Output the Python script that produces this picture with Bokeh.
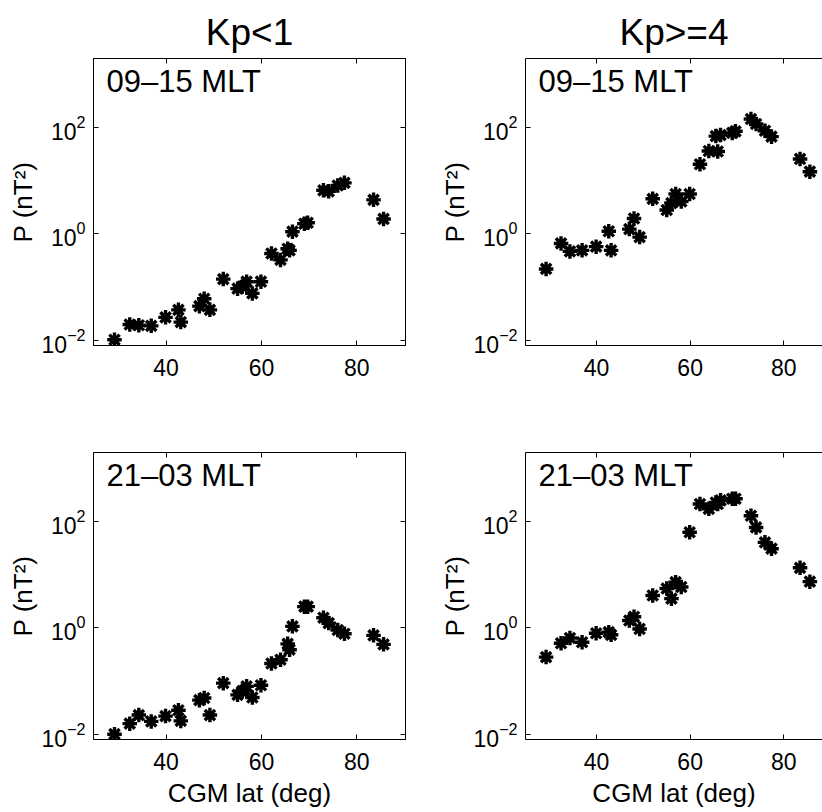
from bokeh.plotting import figure
from bokeh.models import Range1d, FixedTicker, LinearAxis, LogAxis, Label
from bokeh.layouts import row, column
from bokeh.embed import file_html
from bokeh.resources import INLINE

# ---------------- data ----------------
lat = [29.2, 32.4, 34.3, 36.9, 39.9, 42.6, 43.1, 47.0, 48.0, 49.2,
       52.0, 55.0, 56.0, 56.9, 58.1, 59.9, 62.1, 64.0, 65.5, 65.9,
       66.5, 69.0, 69.7, 73.0, 74.1, 76.0, 77.4, 83.5, 85.6]

# 09-15 MLT, Kp<1
p_day_quiet = [0.0102, 0.0197, 0.0191, 0.0186, 0.0269, 0.0372, 0.0219, 0.0437, 0.0603, 0.0372,
               0.141, 0.0933, 0.102, 0.126, 0.0759, 0.126, 0.427, 0.324, 0.525, 0.490,
               1.10, 1.55, 1.62, 6.61, 6.31, 8.13, 9.12, 4.37, 1.91]
# 09-15 MLT, Kp>=4
p_day_active = [0.219, 0.661, 0.468, 0.490, 0.575, 1.12, 0.490, 1.23, 1.95, 0.871,
                4.57, 2.82, 3.80, 5.62, 4.07, 5.62, 20.4, 36.3, 69.2, 35.5,
                72.4, 79.4, 85.1, 145.0, 117.0, 87.1, 67.6, 25.7, 14.8]
# 21-03 MLT, Kp<1
p_night_quiet = [0.0100, 0.0158, 0.0229, 0.0174, 0.0219, 0.0282, 0.0178, 0.0437, 0.0479, 0.0229,
                 0.0912, 0.0550, 0.0646, 0.0794, 0.0490, 0.0832, 0.214, 0.251, 0.501, 0.389,
                 1.07, 2.51, 2.51, 1.55, 1.23, 0.912, 0.776, 0.724, 0.490]
# 21-03 MLT, Kp>=4
p_night_active = [0.282, 0.513, 0.646, 0.537, 0.794, 0.832, 0.741, 1.38, 1.62, 0.955,
                  4.07, 5.50, 3.55, 7.24, 5.89, 63.1, 214.0, 174.0, 229.0, 214.0,
                  251.0, 269.0, 269.0, 129.0, 77.6, 40.7, 30.9, 13.5, 7.41]

col_titles = ["Kp<1", "Kp>=4"]
region_labels = ["09\u201315 MLT", "21\u201303 MLT"]
x_ticks = [40, 60, 80]
y_ticks = [1e-2, 1e0, 1e2]
x_label = "CGM lat (deg)"
y_label = "P (nT\u00b2)"

FONT = "Liberation Sans"
X_START = 24.8
X_END_LEFT = 90.2
X_END_RIGHT = 88.3
Y_START = 10 ** -2.1
Y_END = 10 ** 3.3
FRAME_H = 287


def style_axis(ax, show_labels=True):
    ax.major_tick_in = 5
    ax.major_tick_out = 0
    ax.minor_tick_in = 0
    ax.minor_tick_out = 0
    ax.axis_line_color = "black"
    ax.axis_line_width = 1
    ax.major_tick_line_color = "black"
    ax.major_label_text_font = FONT
    ax.major_label_text_font_size = "23px"
    ax.major_label_text_color = "black" if show_labels else None
    ax.axis_label_text_font = FONT
    ax.axis_label_text_font_size = "26px"
    ax.axis_label_text_font_style = "normal"
    ax.axis_label_text_color = "black"


def make_panel(values, col, rowi):
    left = col == 0
    bottom = rowi == 1
    width = 436 if left else 386
    height = 400 if rowi == 0 else 412
    p = figure(width=width, height=height,
               x_range=Range1d(X_START, X_END_LEFT if left else X_END_RIGHT),
               y_range=Range1d(Y_START, Y_END), y_axis_type="log",
               output_backend="svg", toolbar_location=None,
               min_border_left=93 if left else 83,
               min_border_right=31 if left else 0,
               min_border_top=58 if rowi == 0 else 52,
               min_border_bottom=55 if rowi == 0 else 73,
               background_fill_color="white", border_fill_color="white")
    p.xgrid.visible = False
    p.ygrid.visible = False
    p.outline_line_color = "black" if left else None
    p.outline_line_width = 1

    if rowi == 0:
        p.title.text = col_titles[col]
        p.title.text_font = FONT
        p.title.text_font_size = "37px"
        p.title.text_font_style = "normal"
        p.title.text_color = "black"
        p.title.align = "center"
        p.title.standoff = 11
        p.title.offset = 0 if left else 4

    p.xaxis.ticker = FixedTicker(ticks=x_ticks)
    p.yaxis.ticker = FixedTicker(ticks=y_ticks)
    for ax in p.xaxis:
        style_axis(ax)
        ax.major_label_standoff = 13
        if bottom:
            ax.axis_label = x_label
            ax.axis_label_standoff = 5
    for ax in p.yaxis:
        style_axis(ax)
        ax.major_label_standoff = 8
        ax.axis_label = y_label
        ax.axis_label_standoff = 1

    top_ax = LinearAxis(ticker=FixedTicker(ticks=x_ticks))
    style_axis(top_ax, show_labels=False)
    top_ax.major_label_text_font_size = "1px"
    top_ax.major_label_standoff = 0
    p.add_layout(top_ax, "above")
    if left:
        right_ax = LogAxis(ticker=FixedTicker(ticks=y_ticks))
        style_axis(right_ax, show_labels=False)
        right_ax.major_label_text_font_size = "1px"
        right_ax.major_label_standoff = 0
        p.add_layout(right_ax, "right")

    p.scatter(lat, values, marker="asterisk", size=14.5, line_width=3.4,
              line_color="black")

    p.add_layout(Label(x=13, y=FRAME_H - 23, x_units="screen", y_units="screen",
                       text=region_labels[rowi], text_font=FONT, text_font_size="31px",
                       text_color="black", text_baseline="alphabetic", text_align="left"))
    return p


p1 = make_panel(p_day_quiet, 0, 0)
p2 = make_panel(p_day_active, 1, 0)
p3 = make_panel(p_night_quiet, 0, 1)
p4 = make_panel(p_night_active, 1, 1)

layout = column(row(p1, p2, spacing=0), row(p3, p4, spacing=0), spacing=0)

with open("out.html", "w") as f:
    f.write(file_html(layout, INLINE))
